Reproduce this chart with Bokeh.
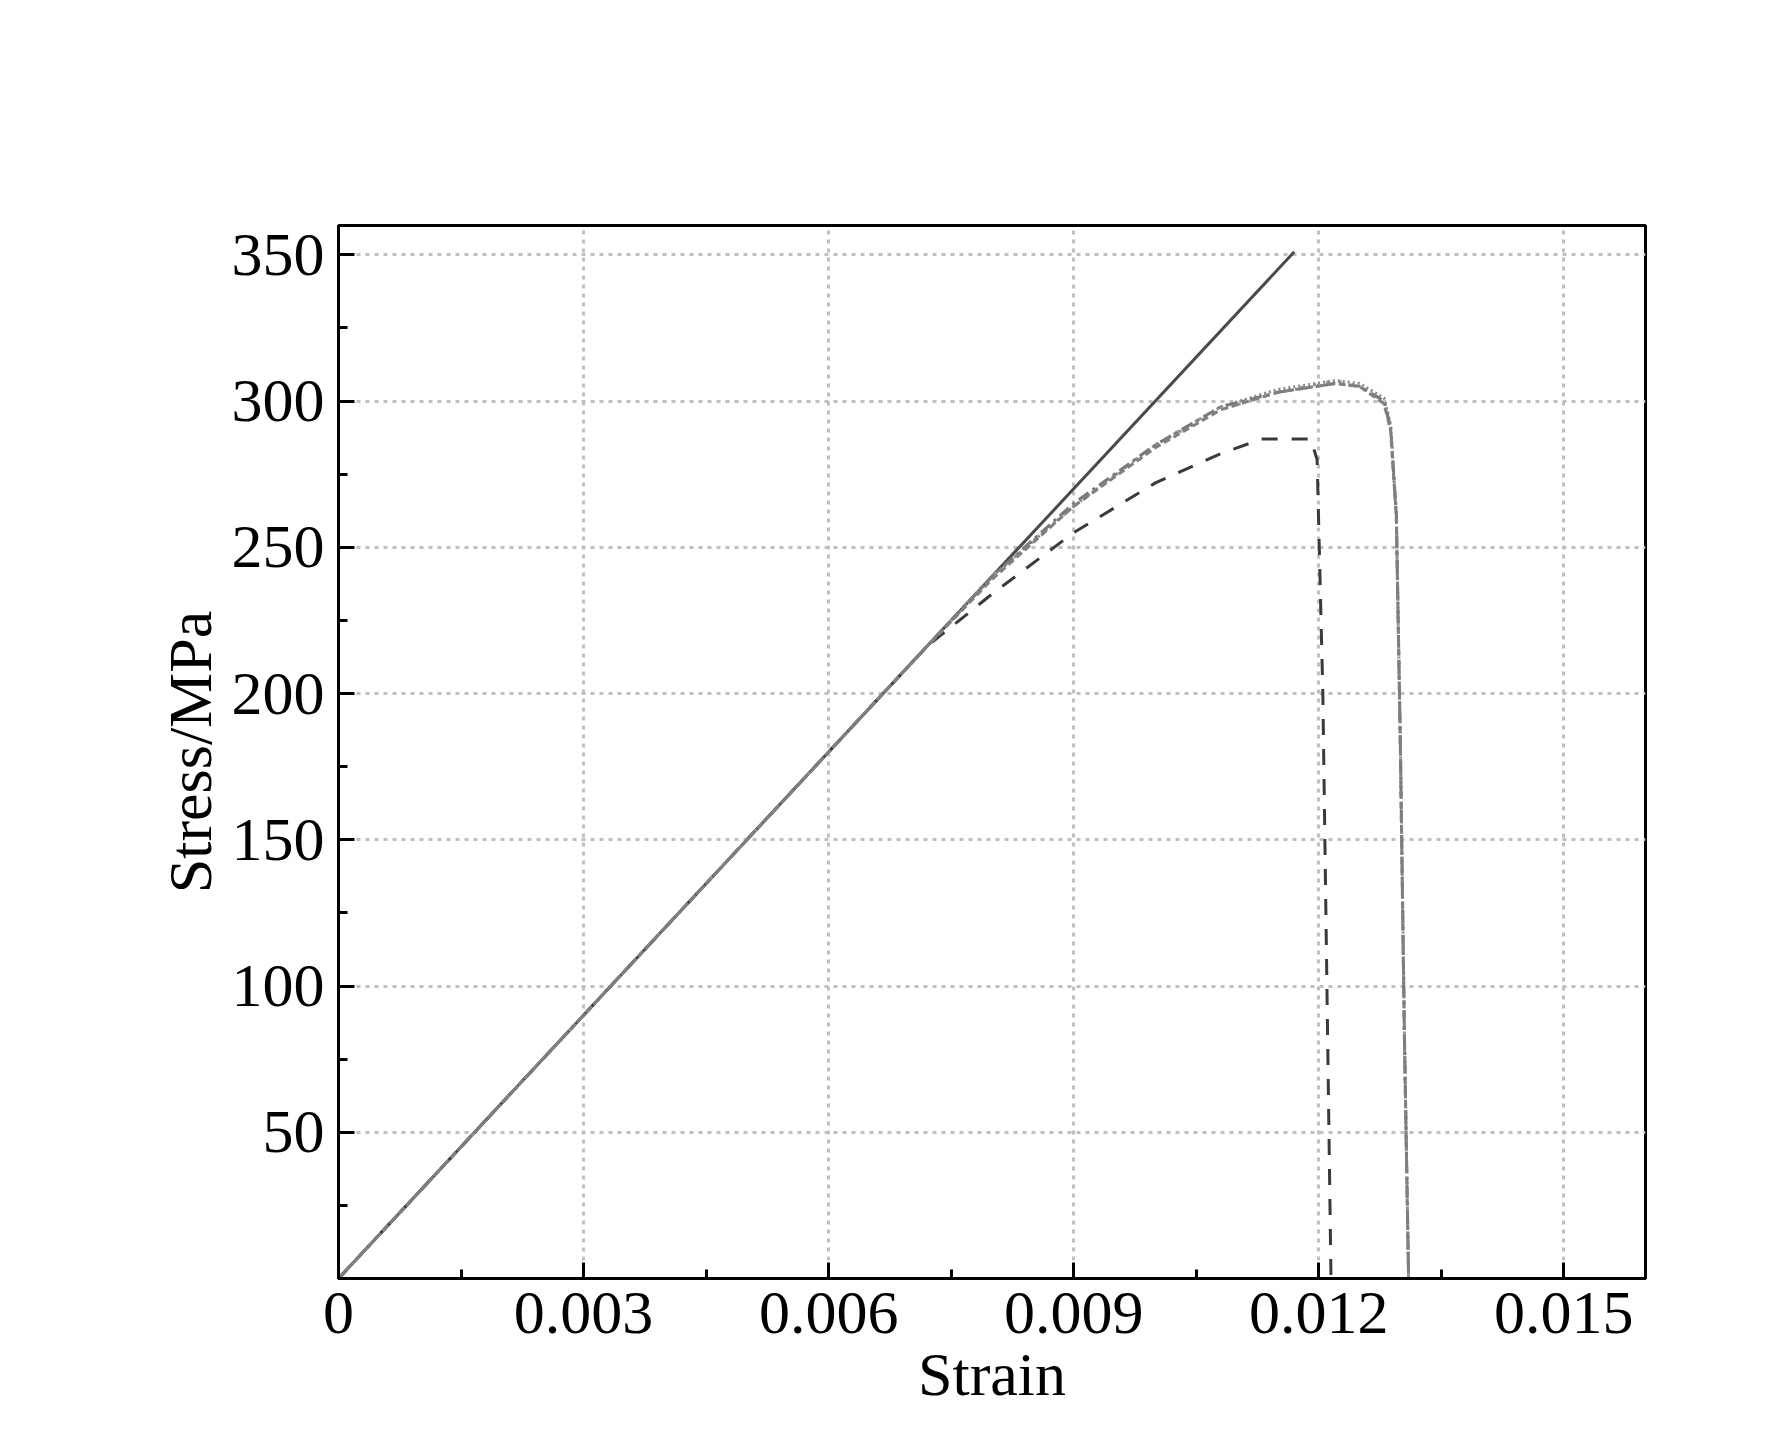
from bokeh.plotting import figure
from bokeh.models import Legend, LegendItem, FixedTicker
from bokeh.embed import file_html
from bokeh.resources import INLINE

lin_x = [0.0, 0.0117]
lin_y = [0.0, 351.0]

t1_x = [0.0, 0.0072, 0.0080, 0.0090, 0.0100, 0.0108, 0.0113, 0.0119, 0.01198, 0.01205, 0.01215]
t1_y = [0.0, 216.0, 234.0, 255.0, 272.0, 282.0, 287.0, 287.0, 280.0, 200.0, 0.0]

t_x = [0.0, 0.0072, 0.0080, 0.0090, 0.0100, 0.0108, 0.0115, 0.0122, 0.0125, 0.0128, 0.01288, 0.01295, 0.0130, 0.01305, 0.0131, 0.0134]
t2_y = [0.0, 216.0, 240.0, 264.0, 285.0, 297.0, 303.0, 307.0, 305.0, 300.0, 290.0, 260.0, 180.0, 80.0, 0.0, 0.0]
t3_y = [0.0, 216.0, 240.0, 264.0, 285.0, 298.0, 304.0, 307.0, 306.0, 301.0, 292.0, 262.0, 182.0, 82.0, 0.0, 0.0]
t4_y = [0.0, 216.0, 240.0, 265.0, 285.0, 298.0, 303.0, 306.0, 305.0, 300.0, 291.0, 261.0, 181.0, 81.0, 0.0, 0.0]
t5_y = [0.0, 216.0, 239.0, 264.0, 284.0, 297.0, 303.0, 306.0, 305.0, 299.0, 290.0, 260.0, 180.0, 80.0, 0.0, 0.0]

labels = ["Linera elasticity", "Interative training 1", "Interative training 2",
          "Interative training 3", "Interative training 4", "Interative training 5"]
x_ticks = [0.0, 0.003, 0.006, 0.009, 0.012, 0.015]
x_tick_labels = ["0", "0.003", "0.006", "0.009", "0.012", "0.015"]
y_ticks = [50, 100, 150, 200, 250, 300, 350]

FONT = "Liberation Serif"
p = figure(width=1750, height=1430, x_range=(0, 0.016), y_range=(0, 360),
           output_backend="svg", toolbar_location=None,
           min_border_left=338, min_border_right=105, min_border_top=225, min_border_bottom=152)
p.outline_line_color = "black"
p.outline_line_width = 3

r0 = p.line(lin_x, lin_y, line_color="#4a4a4a", line_width=3)
r1 = p.line(t1_x, t1_y, line_color="#3a3a3a", line_width=3, line_dash="16 14")
r2 = p.line(t_x, t2_y, line_color="#9a9a9a", line_width=3, line_dash="3 10")
r3 = p.line(t_x, t3_y, line_color="#8a8a8a", line_width=3, line_dash="2 3")
r4 = p.line(t_x, t4_y, line_color="#7a7a7a", line_width=3, line_dash="12 5 3 5")
r5 = p.line(t_x, t5_y, line_color="#808080", line_width=3, line_dash="7 4")

for ax in (p.xaxis, p.yaxis):
    ax.axis_line_width = 3
    ax.major_tick_in = 16
    ax.major_tick_out = 0
    ax.minor_tick_in = 9
    ax.minor_tick_out = 0
    ax.major_tick_line_width = 3
    ax.minor_tick_line_width = 3
    ax.major_label_text_font = FONT
    ax.major_label_text_font_size = "62px"
    ax.major_label_text_color = "black"
    ax.axis_label_text_font = FONT
    ax.axis_label_text_font_size = "62px"
    ax.axis_label_text_font_style = "normal"
    ax.axis_label_text_color = "black"

p.xaxis.ticker = FixedTicker(ticks=x_ticks, minor_ticks=[i * 0.0015 for i in range(11)])
p.xaxis.major_label_overrides = {t: l for t, l in zip(x_ticks, x_tick_labels)}
p.xaxis.axis_label = "Strain"
p.xaxis.major_label_standoff = 14
p.xaxis.axis_label_standoff = 4
p.yaxis.ticker = FixedTicker(ticks=y_ticks, minor_ticks=[i * 25 for i in range(15)])
p.yaxis.axis_label = "Stress/MPa"
p.yaxis.major_label_standoff = 14

p.grid.grid_line_color = "#c0c0c0"
p.grid.grid_line_width = 3
p.grid.grid_line_dash = "4 5"

items = [LegendItem(label=labels[i], renderers=[r]) for i, r in enumerate([r0, r1, r2, r3, r4, r5])]
leg = Legend(items=items, nrows=3, location=(-34, 1078), orientation="vertical",
             label_text_font=FONT, label_text_font_size="60px", label_text_color="black",
             glyph_width=100, glyph_height=50, label_height=58, spacing=10,
             label_standoff=12, padding=0, margin=0, border_line_color=None,
             background_fill_alpha=0)
p.add_layout(leg, "center")

open("out.html", "w").write(file_html(p, INLINE))
